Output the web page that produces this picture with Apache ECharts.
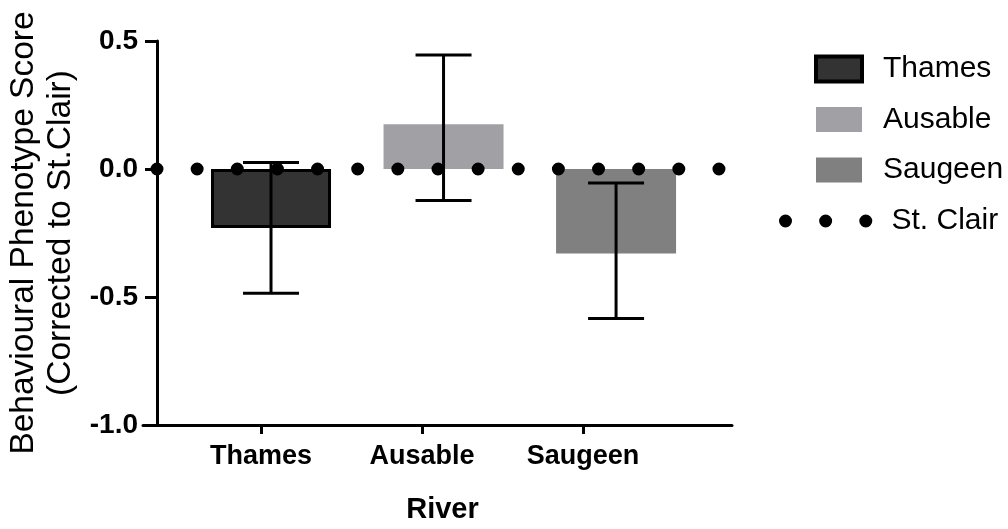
<!DOCTYPE html>
<html>
<head>
<meta charset="utf-8">
<script src="https://cdn.jsdelivr.net/npm/echarts@6/dist/echarts.min.js"></script>
<style>
  html, body { margin: 0; padding: 0; background: #fff; }
  #chart { width: 1008px; height: 529px; }
</style>
</head>
<body>
<div id="chart"></div>
<script>
// River groups and their mean behavioural phenotype score (relative to St. Clair)
const rivers = ['Thames', 'Ausable', 'Saugeen'];
const meanScore = [-0.23, 0.175, -0.33];
// Ends of the error bars
const errLower = [-0.485, -0.123, -0.584];
const errUpper = [0.025, 0.445, -0.055];
// St. Clair reference level
const stClairLevel = 0;
// Y axis ticks
const yMin = -1.0, yMax = 0.5, yStep = 0.5;

const barColors = ['#333333', '#a1a1a5', '#808080'];
const font = '"Liberation Sans", Arial, sans-serif';

const chart = echarts.init(document.getElementById('chart'), null, { renderer: 'canvas' });

const barSeries = rivers.map((name, i) => ({
  name: name,
  type: 'bar',
  xAxisIndex: 1,
  yAxisIndex: 0,
  data: [[i + 1, meanScore[i]]],
  barWidth: 120,
  barGap: '-100%',
  itemStyle: {
    color: barColors[i],
    borderColor: i === 0 ? '#000' : barColors[i],
    borderWidth: i === 0 ? 3 : 0
  },
  z: 2
}));

const errorSeries = {
  type: 'custom',
  name: 'error',
  xAxisIndex: 1,
  yAxisIndex: 0,
  z: 3,
  data: rivers.map((r, i) => [i + 1, errLower[i], errUpper[i]]),
  renderItem: function (params, api) {
    const lo = api.coord([api.value(0), api.value(1)]);
    const hi = api.coord([api.value(0), api.value(2)]);
    const half = 28;
    const style = { stroke: '#000', lineWidth: 3 };
    return {
      type: 'group',
      children: [
        { type: 'line', shape: { x1: lo[0], y1: lo[1], x2: hi[0], y2: hi[1] }, style: style },
        { type: 'line', shape: { x1: hi[0] - half, y1: hi[1], x2: hi[0] + half, y2: hi[1] }, style: style },
        { type: 'line', shape: { x1: lo[0] - half, y1: lo[1], x2: lo[0] + half, y2: lo[1] }, style: style }
      ]
    };
  }
};

// round dots drawn as a dotted line
const dotStyle = { color: '#000', width: 13, type: [0, 40.14], cap: 'round' };

const refSeries = {
  name: 'St. Clair',
  type: 'line',
  xAxisIndex: 2,
  yAxisIndex: 0,
  symbol: 'none',
  clip: true,
  itemStyle: { color: '#000' },
  data: [[0, stClairLevel], [1, stClairLevel]],
  lineStyle: dotStyle,
  z: 4
};

const option = {
  animation: false,
  backgroundColor: '#fff',
  grid: { left: 143, right: 276, top: 41, bottom: 104, outerBoundsMode: 'none', containLabel: false },
  xAxis: [
    {
      // visible river axis
      type: 'value',
      min: 0.267,
      max: 3.925,
      position: 'bottom',
      axisLine: { show: true, onZero: false, lineStyle: { color: '#000', width: 3 } },
      axisTick: { show: true, length: 9, customValues: [1, 2, 3], lineStyle: { color: '#000', width: 3 } },
      axisLabel: {
        customValues: [1, 2, 3],
        formatter: v => rivers[Math.round(v) - 1],
        margin: 18,
        color: '#000',
        fontSize: 27,
        fontWeight: 'bold',
        fontFamily: font
      },
      splitLine: { show: false },
      name: 'River',
      nameLocation: 'middle',
      nameGap: 70,
      nameTextStyle: { color: '#000', fontSize: 29, fontWeight: 'bold', fontFamily: font, padding: [0, 0, 0, 10] }
    },
    {
      // bar placement axis
      type: 'value',
      min: 0.258,
      max: 3.672,
      show: false,
      axisLine: { onZero: false }
    },
    {
      // reference line span, starting at the y axis and running past the plot's right edge
      type: 'value',
      min: -14 / 588,
      max: 575 / 588,
      show: false,
      axisLine: { onZero: false }
    }
  ],
  yAxis: {
    type: 'value',
    min: yMin,
    max: yMax,
    interval: yStep,
    offset: -14,
    axisLine: { show: true, onZero: false, lineStyle: { color: '#000', width: 3 } },
    axisTick: { show: true, length: 12, lineStyle: { color: '#000', width: 3 } },
    axisLabel: {
      margin: 19,
      formatter: v => v.toFixed(1),
      color: '#000',
      fontSize: 28,
      fontWeight: 'bold',
      fontFamily: font
    },
    splitLine: { show: false },
    name: 'Behavioural Phenotype Score\n(Corrected to St.Clair)',
    nameLocation: 'middle',
    nameRotate: 90,
    nameGap: 76,
    nameTextStyle: { color: '#000', fontSize: 33.5, lineHeight: 37, fontFamily: font }
  },
  legend: [
    {
      data: rivers.map((r, i) => ({
        name: r,
        itemStyle: i === 0 ? { borderColor: '#000', borderWidth: 4 } : { borderWidth: 0 }
      })),
      orient: 'vertical',
      left: 809,
      top: 49,
      itemWidth: 46,
      itemHeight: 25,
      itemGap: 20.5,
      icon: 'rect',
      selectedMode: false,
      textStyle: { color: '#000', fontSize: 30, lineHeight: 30, fontFamily: font, padding: [0, 0, 0, 16] }
    },
    {
      data: [{ name: 'St. Clair', itemStyle: { opacity: 0 } }],
      left: 774,
      top: 201,
      itemWidth: 81,
      itemHeight: 25,
      selectedMode: false,
      lineStyle: dotStyle,
      textStyle: { color: '#000', fontSize: 30, lineHeight: 30, fontFamily: font, padding: [0, 0, 0, 20] }
    }
  ],
  series: [...barSeries, errorSeries, refSeries]
};

chart.setOption(option);
</script>
</body>
</html>
